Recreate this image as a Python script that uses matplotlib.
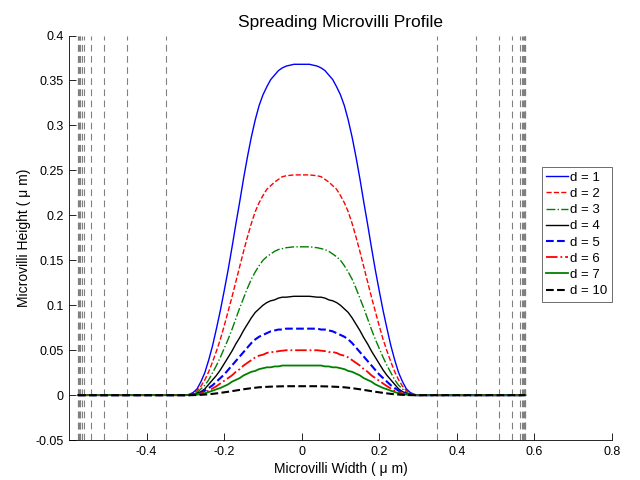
import matplotlib
matplotlib.use("Agg")
import matplotlib.pyplot as plt
import numpy as np

plt.rcParams['font.family'] = ['Liberation Sans', 'DejaVu Sans']

# half-width positions (um); profiles are symmetric about x = 0
x_half = [0, 0.02, 0.04, 0.05, 0.06, 0.07, 0.08, 0.09, 0.10, 0.11,
          0.12, 0.13, 0.14, 0.15, 0.16, 0.17, 0.18, 0.19, 0.20, 0.21,
          0.22, 0.23, 0.24, 0.25, 0.26, 0.27, 0.28, 0.29, 0.30, 0.577]

# microvilli heights (um) for each spreading distance d
h_d1 = [0.368, 0.368, 0.366, 0.364, 0.361, 0.356, 0.351, 0.343, 0.334, 0.322,
        0.306, 0.287, 0.265, 0.241, 0.215, 0.190, 0.164, 0.139, 0.116, 0.094,
        0.074, 0.055, 0.039, 0.025, 0.015, 0.007, 0.003, 0.001, 0, 0]
h_d2 = [0.245, 0.245, 0.244, 0.243, 0.240, 0.237, 0.233, 0.229, 0.222, 0.214,
        0.204, 0.191, 0.176, 0.160, 0.143, 0.126, 0.109, 0.093, 0.077, 0.062,
        0.049, 0.037, 0.026, 0.017, 0.010, 0.005, 0.002, 0.0005, 0, 0]
h_d3 = [0.165, 0.165, 0.164, 0.163, 0.162, 0.160, 0.157, 0.154, 0.150, 0.144,
        0.137, 0.129, 0.119, 0.108, 0.097, 0.085, 0.073, 0.062, 0.052, 0.042,
        0.033, 0.025, 0.017, 0.011, 0.007, 0.003, 0.001, 0.0003, 0, 0]
h_d4 = [0.110, 0.110, 0.109, 0.109, 0.108, 0.106, 0.105, 0.103, 0.100, 0.096,
        0.092, 0.086, 0.079, 0.072, 0.064, 0.057, 0.049, 0.042, 0.035, 0.028,
        0.022, 0.017, 0.012, 0.007, 0.004, 0.002, 0.001, 0.0002, 0, 0]
h_d5 = [0.074, 0.074, 0.074, 0.073, 0.073, 0.072, 0.071, 0.069, 0.067, 0.065,
        0.062, 0.058, 0.053, 0.048, 0.043, 0.038, 0.033, 0.028, 0.023, 0.019,
        0.015, 0.011, 0.008, 0.005, 0.003, 0.0015, 0.0006, 0.0001, 0, 0]
h_d6 = [0.050, 0.050, 0.050, 0.0495, 0.049, 0.048, 0.048, 0.047, 0.045, 0.044,
        0.042, 0.039, 0.036, 0.033, 0.029, 0.026, 0.022, 0.019, 0.016, 0.013,
        0.010, 0.0075, 0.005, 0.0034, 0.002, 0.001, 0.0004, 0.0001, 0, 0]
h_d7 = [0.033, 0.033, 0.033, 0.033, 0.032, 0.032, 0.031, 0.031, 0.030, 0.029,
        0.027, 0.026, 0.024, 0.022, 0.019, 0.017, 0.015, 0.012, 0.010, 0.008,
        0.0066, 0.005, 0.0035, 0.0022, 0.0013, 0.0007, 0.0003, 0.0001, 0, 0]
h_d10 = [0.010, 0.010, 0.010, 0.0099, 0.0098, 0.0097, 0.0095, 0.0093, 0.0091, 0.0088,
         0.0083, 0.0078, 0.0072, 0.0066, 0.0059, 0.0052, 0.0045, 0.0038, 0.0032, 0.0026,
         0.002, 0.0015, 0.001, 0.0007, 0.0004, 0.0002, 0.0001, 0, 0, 0]

labels = ['d = 1', 'd = 2', 'd = 3', 'd = 4', 'd = 5', 'd = 6', 'd = 7', 'd = 10']

# microvilli boundary positions (um), mirrored on both sides
boundaries = [0.35, 0.45, 0.51, 0.543, 0.562, 0.568, 0.571, 0.573, 0.575, 0.576, 0.577]

styles = [
    dict(color='#0000ff', ls='-', lw=1.0),
    dict(color='#ff0000', ls='--', lw=1.0),
    dict(color='#008000', ls='-.', lw=1.0),
    dict(color='#000000', ls='-', lw=1.0),
    dict(color='#0000ff', ls='--', lw=1.5),
    dict(color='#ff0000', ls='-.', lw=1.3),
    dict(color='#008000', ls='-', lw=1.3),
    dict(color='#000000', ls='--', lw=1.5),
]

fig = plt.figure(figsize=(6.4, 4.8), dpi=100)
ax = fig.add_axes([0.108, 0.083, 0.848, 0.843])

for b in boundaries:
    for xb in (-b, b):
        ax.axvline(xb, color='#808080', lw=0.8, dashes=(6, 4), zorder=1)

xh = np.array(x_half)
x_full = np.concatenate([-xh[::-1], xh[1:]])
series = [h_d1, h_d2, h_d3, h_d4, h_d5, h_d6, h_d7, h_d10]
for h, lab, st in zip(series, labels, styles):
    hh = np.array(h)
    y_full = np.concatenate([hh[::-1], hh[1:]])
    ax.plot(x_full, y_full, label=lab, zorder=3, solid_joinstyle='round',
            dash_joinstyle='round', **st)

ax.set_xlim(-0.6, 0.8)
ax.set_ylim(-0.05, 0.4)
ax.set_xticks([-0.4, -0.2, 0, 0.2, 0.4, 0.6, 0.8])
ax.set_xticklabels(['-0.4', '-0.2', '0', '0.2', '0.4', '0.6', '0.8'])
ax.set_yticks([-0.05, 0, 0.05, 0.1, 0.15, 0.2, 0.25, 0.3, 0.35, 0.4])
ax.set_yticklabels(['-0.05', '0', '0.05', '0.1', '0.15', '0.2', '0.25', '0.3', '0.35', '0.4'])
ax.tick_params(direction='in', length=5, width=0.6, labelsize=9, pad=4)
for side in ('top', 'right'):
    ax.spines[side].set_visible(False)
for side in ('left', 'bottom'):
    ax.spines[side].set_linewidth(0.6)

ax.set_title('Spreading Microvilli Profile', fontsize=12.5, pad=6)
ax.set_xlabel('Microvilli Width ( \u03bc m)', fontsize=10, labelpad=3)
ax.set_ylabel('Microvilli Height ( \u03bc m)', fontsize=10, labelpad=3)

leg = ax.legend(loc='upper left', bbox_to_anchor=(0.871, 0.675), fontsize=9.5,
                handlelength=1.6, handletextpad=0.2, borderpad=0.35,
                labelspacing=0.3, fancybox=False, framealpha=1,
                borderaxespad=0)
leg.get_frame().set_edgecolor('#555555')
leg.get_frame().set_linewidth(0.6)

fig.savefig('out.png', dpi=100)
